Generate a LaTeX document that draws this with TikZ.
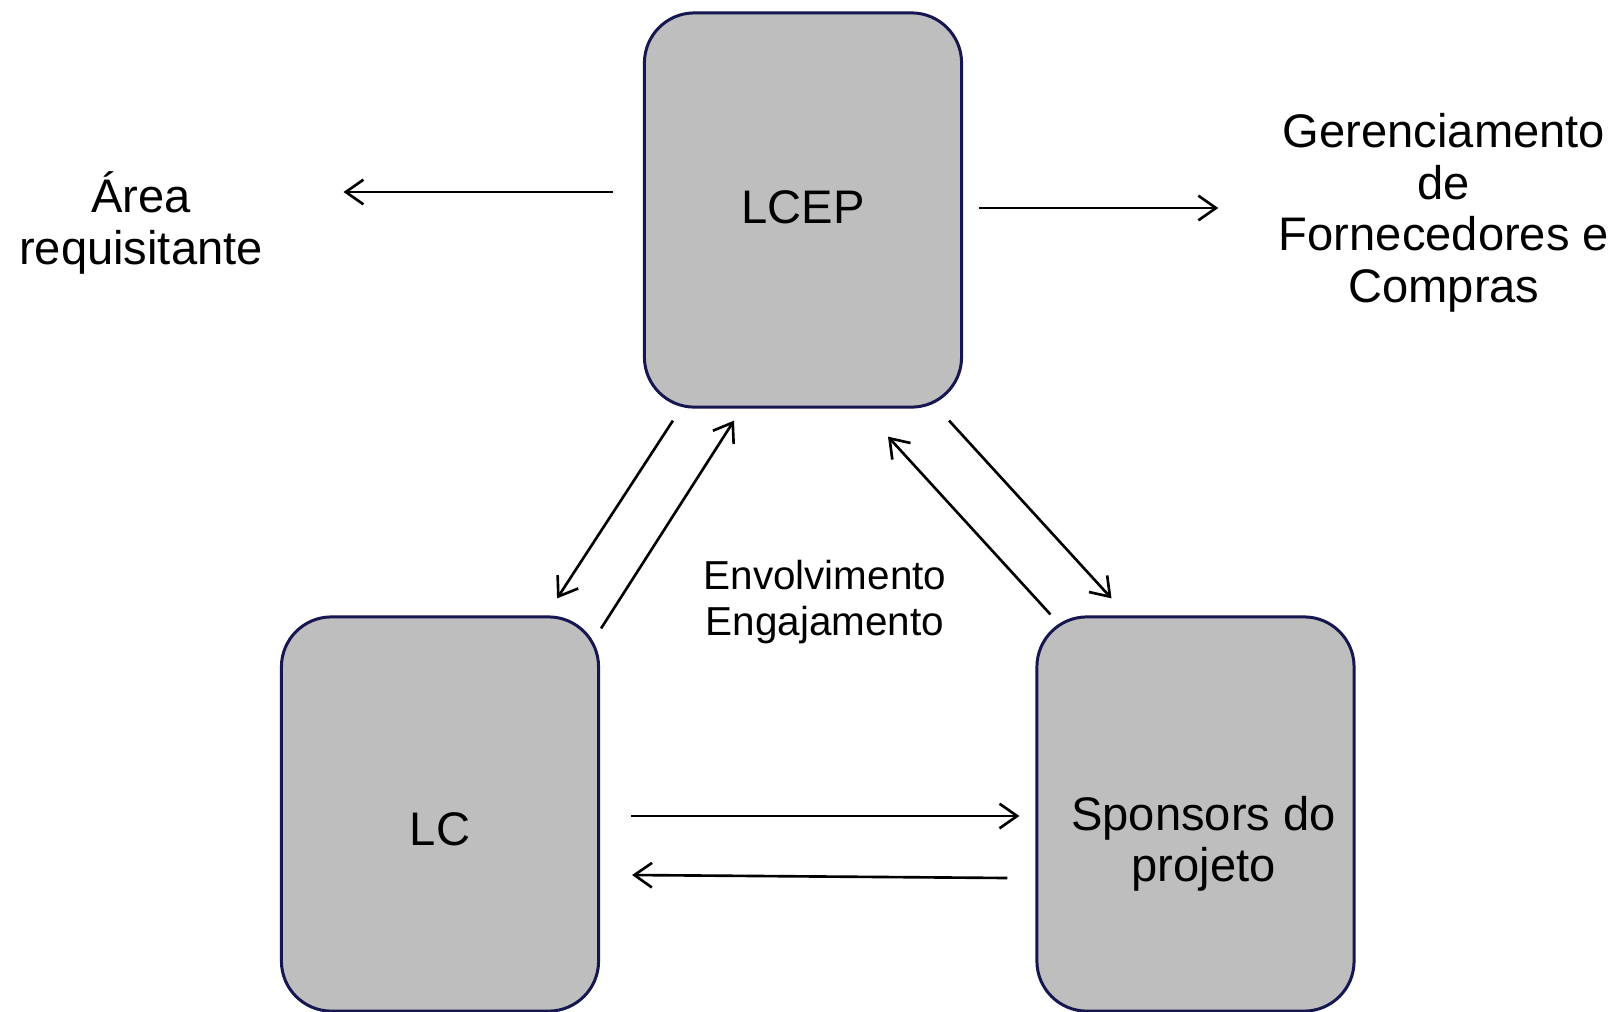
\documentclass[tikz,border=0pt]{standalone}
\usepackage{fontspec}
\setmainfont{Liberation Sans}
\usepackage{tikz}
\usetikzlibrary{arrows.meta}

\definecolor{boxgray}{RGB}{190,190,190}
\definecolor{boxline}{RGB}{22,22,80}

\begin{document}
\begin{tikzpicture}[x=0.01cm,y=-0.01cm,
    box/.style={rectangle,draw=boxline,fill=boxgray,line width=0.85pt,rounded corners=0.5cm,minimum width=3.17cm,minimum height=3.94cm,inner sep=0pt},
    txt/.style={align=center,inner sep=0pt,font=\fontsize{13.4}{14.65}\selectfont},
    smalltxt/.style={align=center,inner sep=0pt,font=\fontsize{11.5}{12.9}\selectfont},
    arr/.style={->,line width=0.75pt,>={Straight Barb[length=5pt,width=7pt]}}]
    \clip (0,0) rectangle (1617,1011);
    \node[box] (lcep) at (803,210) {};
    \node[box] (lc) at (440,814) {};
    \node[box] (sps) at (1195.5,814) {};
    \node[txt] (lceptxt) at ([shift={(0,-3)}]lcep.center) {LCEP};
    \node[txt] (lctxt) at ([shift={(0,15)}]lc.center) {LC};
    \node[txt] (spstxt) at ([shift={(8,30)}]sps.center) {Sponsors do\\projeto};
    \node[txt] (area) at (141,223) {Área\\requisitante};
    \node[txt] (ger) at (1444,213) {Gerenciamento\\de\\Fornecedores e\\Compras};
    \node[smalltxt] (env) at (825,602) {Envolvimento\\Engajamento};
    \draw[arr] ([shift={(-30,-18)}]lcep.west) -- ([shift={(80,-31)}]area.east);
    \draw[arr] ([shift={(16,-2)}]lcep.east) -- ([shift={(-60,-5)}]ger.west);
    \draw[arr] ([shift={(30,12)}]lcep.south west) -- ([shift={(-43,-17)}]lc.north east);
    \draw[arr] ([shift={(1,13)}]lc.north east) -- ([shift={(-69,12)}]lcep.south);
    \draw[arr] ([shift={(15,-1)}]sps.north west) -- ([shift={(85,28)}]lcep.south);
    \draw[arr] ([shift={(-14,12)}]lcep.south east) -- ([shift={(-84,-17)}]sps.north);
    \draw[arr] ([shift={(31,2)}]lc.east) -- ([shift={(-16,2)}]sps.west);
    \draw[arr] ([shift={(-28,64)}]sps.west) -- ([shift={(32,61)}]lc.east);
\end{tikzpicture}
\end{document}
